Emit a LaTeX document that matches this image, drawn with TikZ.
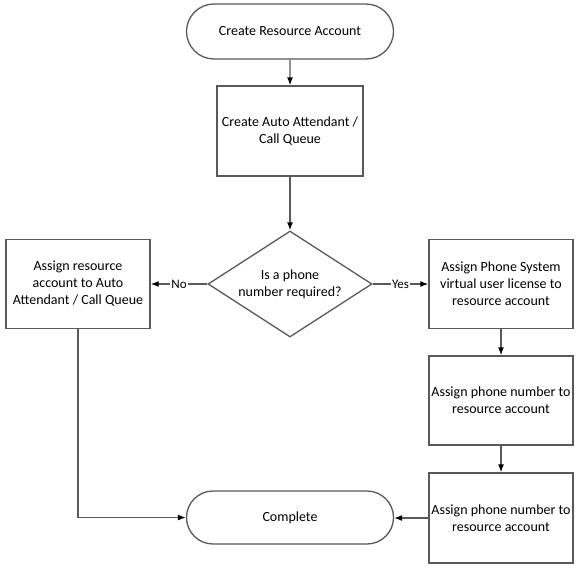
\documentclass[tikz,border=0pt]{standalone}
\usepackage{fontspec}
\setmainfont{Carlito}
\usetikzlibrary{
  shapes.geometric,
  shapes.misc,
  arrows.meta,
  positioning
}
\definecolor{linecolor}{RGB}{89, 89, 89}
\definecolor{tipcolor}{RGB}{0, 0, 0}
\definecolor{labelcolor}{RGB}{0, 0, 0}
\tikzset{
blocktext/.style={
  align=center,
  font=\fontsize{14}{17}\selectfont,
  text=labelcolor
},
terminalblock/.style={
  rounded rectangle,
  draw=linecolor,
  line width=1.3pt,
  fill=white,
  minimum width=207pt,
  inner sep=0pt,
  blocktext
},
processblock/.style={
  rectangle,
  draw=linecolor,
  line width=1.3pt,
  fill=white,
  minimum width=144pt,
  minimum height=89pt,
  inner sep=0pt,
  blocktext
},
decisionblock/.style={
  diamond,
  aspect=1.55,
  draw=linecolor,
  line width=1.3pt,
  fill=white,
  minimum width=164pt,
  minimum height=106pt,
  inner sep=0pt,
  blocktext
},
arrow/.style={
  -{Latex[length=8pt,width=6pt,color=tipcolor]},
  line width=1.3pt,
  draw=linecolor
},
branchlabel/.style={
  fill=white,
  inner sep=1pt,
  font=\fontsize{13}{15}\selectfont,
  text=labelcolor
}
}

\begin{document}
\begin{tikzpicture}[x=1pt, y=-1pt]
\useasboundingbox (0, 0) rectangle (577, 568);

% ----------------------------------------------------------------
% Main column
% ----------------------------------------------------------------
\node[terminalblock, minimum height=55pt] (start) at (290, 31.5) {Create Resource Account};
\node[processblock, minimum width=146pt, minimum height=90pt] (create) at (290, 131) {Create Auto Attendant /\\Call Queue};
\node[decisionblock] (decide) at (290, 284) {Is a phone\\number required?};

% ----------------------------------------------------------------
% No branch (left)
% ----------------------------------------------------------------
\node[processblock] (assignaa) at (78, 284) {Assign resource\\account to Auto\\Attendant / Call Queue};

% ----------------------------------------------------------------
% Yes branch (right)
% ----------------------------------------------------------------
\node[processblock] (license) at (501, 284) {Assign Phone System\\virtual user license to\\resource account};
\node[processblock] (phonea) at (501, 400.5) {Assign phone number to\\resource account};
\node[processblock, minimum height=90pt] (phoneb) at (501, 518) {Assign phone number to\\resource account};

% ----------------------------------------------------------------
% End
% ----------------------------------------------------------------
\node[terminalblock, minimum height=53pt] (complete) at (290, 517.5) {Complete};

% Connectors
\draw[arrow] (start) -- (create);
\draw[arrow] (create) -- (decide);
\draw[arrow] (decide) -- node[branchlabel] {No} (assignaa);
\draw[arrow] (decide) -- node[branchlabel] {Yes} (license);
\draw[arrow] (license) -- (phonea);
\draw[arrow] (phonea) -- (phoneb);
\draw[arrow] (phoneb.west) -- (phoneb.west -| complete.east);
\draw[arrow] (assignaa.south) |- (complete.west);

\end{tikzpicture}
\end{document}
